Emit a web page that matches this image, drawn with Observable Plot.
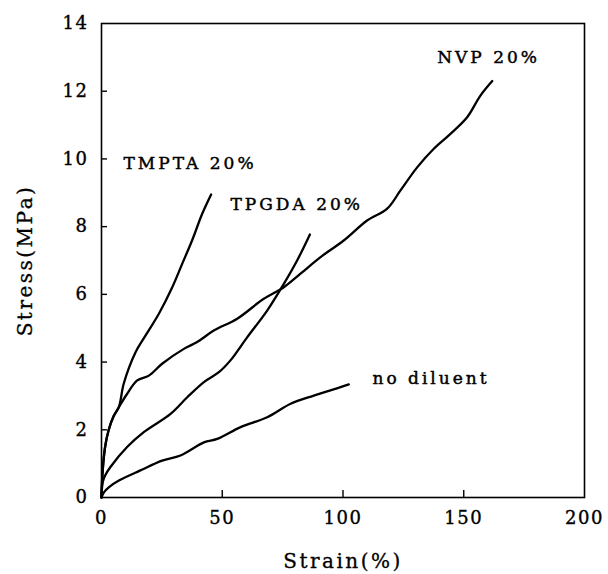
<!DOCTYPE html>
<html>
<head>
<meta charset="utf-8">
<script src="https://cdn.jsdelivr.net/npm/d3@7"></script>
<script src="https://cdn.jsdelivr.net/npm/@observablehq/plot@0.6"></script>
<style>
  html, body { margin: 0; padding: 0; background: #fff; }
  svg { font-family: "DejaVu Serif", serif; }
  g[aria-label="x-axis tick label"] text, g[aria-label="y-axis tick label"] text {
    font-size: 18px; letter-spacing: 1.5px; stroke: black; stroke-width: 0.35px;
  }
  g[aria-label="x-axis label"] text, g[aria-label="y-axis label"] text {
    font-size: 20px; letter-spacing: 2.5px; stroke: black; stroke-width: 0.3px;
  }
  g[aria-label="text"] text {
    font-size: 17px; letter-spacing: 3px; stroke: black; stroke-width: 0.45px;
  }
</style>
</head>
<body>
<div id="chart"></div>
<script>
// Stress–strain curves (strain %, stress MPa)
const tmptaStrain = [0, 0.5, 1.5, 3, 5, 7.2, 9.2, 14.1, 18.2, 23.7, 29.3, 33.4, 37.5, 41.7, 45.4];
const tmptaStress = [0, 0.8, 1.5, 2.0, 2.4, 2.67, 3.36, 4.29, 4.78, 5.42, 6.21, 6.9, 7.59, 8.38, 8.95];

const nvpStrain = [0, 0.5, 1.5, 3, 5, 7.2, 10.5, 14.8, 19.6, 25.1, 34.1, 39.6, 46.5, 56.2, 67.2, 75.5, 82.4, 90.7, 100.3, 110, 118.3, 123.8, 130.7, 137.6, 144.5, 151.4, 156.9, 161.8];
const nvpStress = [0, 0.8, 1.5, 2.0, 2.4, 2.67, 3.05, 3.46, 3.6, 3.95, 4.39, 4.59, 4.93, 5.28, 5.87, 6.21, 6.61, 7.1, 7.59, 8.18, 8.53, 9.07, 9.75, 10.3, 10.74, 11.23, 11.87, 12.3];

const tpgdaStrain = [0, 0.5, 1.5, 3.7, 10.6, 17.5, 28.6, 35.5, 42.4, 48.6, 53.4, 60.3, 68.6, 75.5, 81, 86.3];
const tpgdaStress = [0, 0.45, 0.65, 0.9, 1.49, 1.93, 2.47, 2.96, 3.41, 3.7, 4.05, 4.73, 5.52, 6.31, 7.0, 7.77];

const noDilStrain = [0, 1, 3, 7.2, 16.1, 25.1, 32.7, 42.4, 47.9, 57.6, 68.6, 78.3, 87.9, 99, 102.4];
const noDilStress = [0, 0.15, 0.3, 0.5, 0.8, 1.09, 1.24, 1.63, 1.73, 2.08, 2.37, 2.77, 3.01, 3.26, 3.34];

const seriesNames = ["TMPTA 20%", "NVP 20%", "TPGDA 20%", "no diluent"];
const labelX = [9.1, 139, 53.4, 112.2];
const labelY = [9.86, 13.0, 8.65, 3.51];

const xTicks = [0, 50, 100, 150, 200];
const yTicks = [0, 2, 4, 6, 8, 10, 12, 14];

const toRows = (name, xs, ys) => xs.map((x, i) => ({series: name, strain: x, stress: ys[i]}));
const rows = [
  ...toRows(seriesNames[0], tmptaStrain, tmptaStress),
  ...toRows(seriesNames[1], nvpStrain, nvpStress),
  ...toRows(seriesNames[2], tpgdaStrain, tpgdaStress),
  ...toRows(seriesNames[3], noDilStrain, noDilStress)
];
const labels = seriesNames.map((s, i) => ({text: s, x: labelX[i], y: labelY[i]}));

const chart = Plot.plot({
  width: 608,
  height: 574,
  marginTop: 23,
  marginBottom: 77,
  marginLeft: 101,
  marginRight: 24,
  style: {fontFamily: "DejaVu Serif, serif", fontSize: "17px", color: "black", background: "white"},
  x: {domain: [0, 200]},
  y: {domain: [0, 14]},
  marks: [
    Plot.frame({stroke: "black", strokeWidth: 1.6}),
    // inward tick marks
    Plot.axisX(xTicks.slice(1, -1), {anchor: "bottom", tickSize: -7, text: null, label: null, strokeWidth: 1.4}),
    Plot.axisY(yTicks.slice(1, -1), {anchor: "left", tickSize: -6, text: null, label: null, strokeWidth: 1.4}),
    // tick labels + axis titles
    Plot.axisX(xTicks, {anchor: "bottom", tickSize: 0, tickPadding: 14,
      label: "Strain(%)", labelAnchor: "center", labelArrow: "none", labelOffset: 70}),
    Plot.axisY(yTicks, {anchor: "left", tickSize: 0, tickPadding: 13,
      label: "Stress(MPa)", labelAnchor: "center", labelArrow: "none", labelOffset: 84}),
    Plot.line(rows, {x: "strain", y: "stress", z: "series", stroke: "black", strokeWidth: 2.3, curve: "catmull-rom"}),
    Plot.text(labels, {x: "x", y: "y", text: "text", textAnchor: "start", fill: "black"})
  ]
});
document.getElementById("chart").appendChild(chart);
</script>
</body>
</html>
